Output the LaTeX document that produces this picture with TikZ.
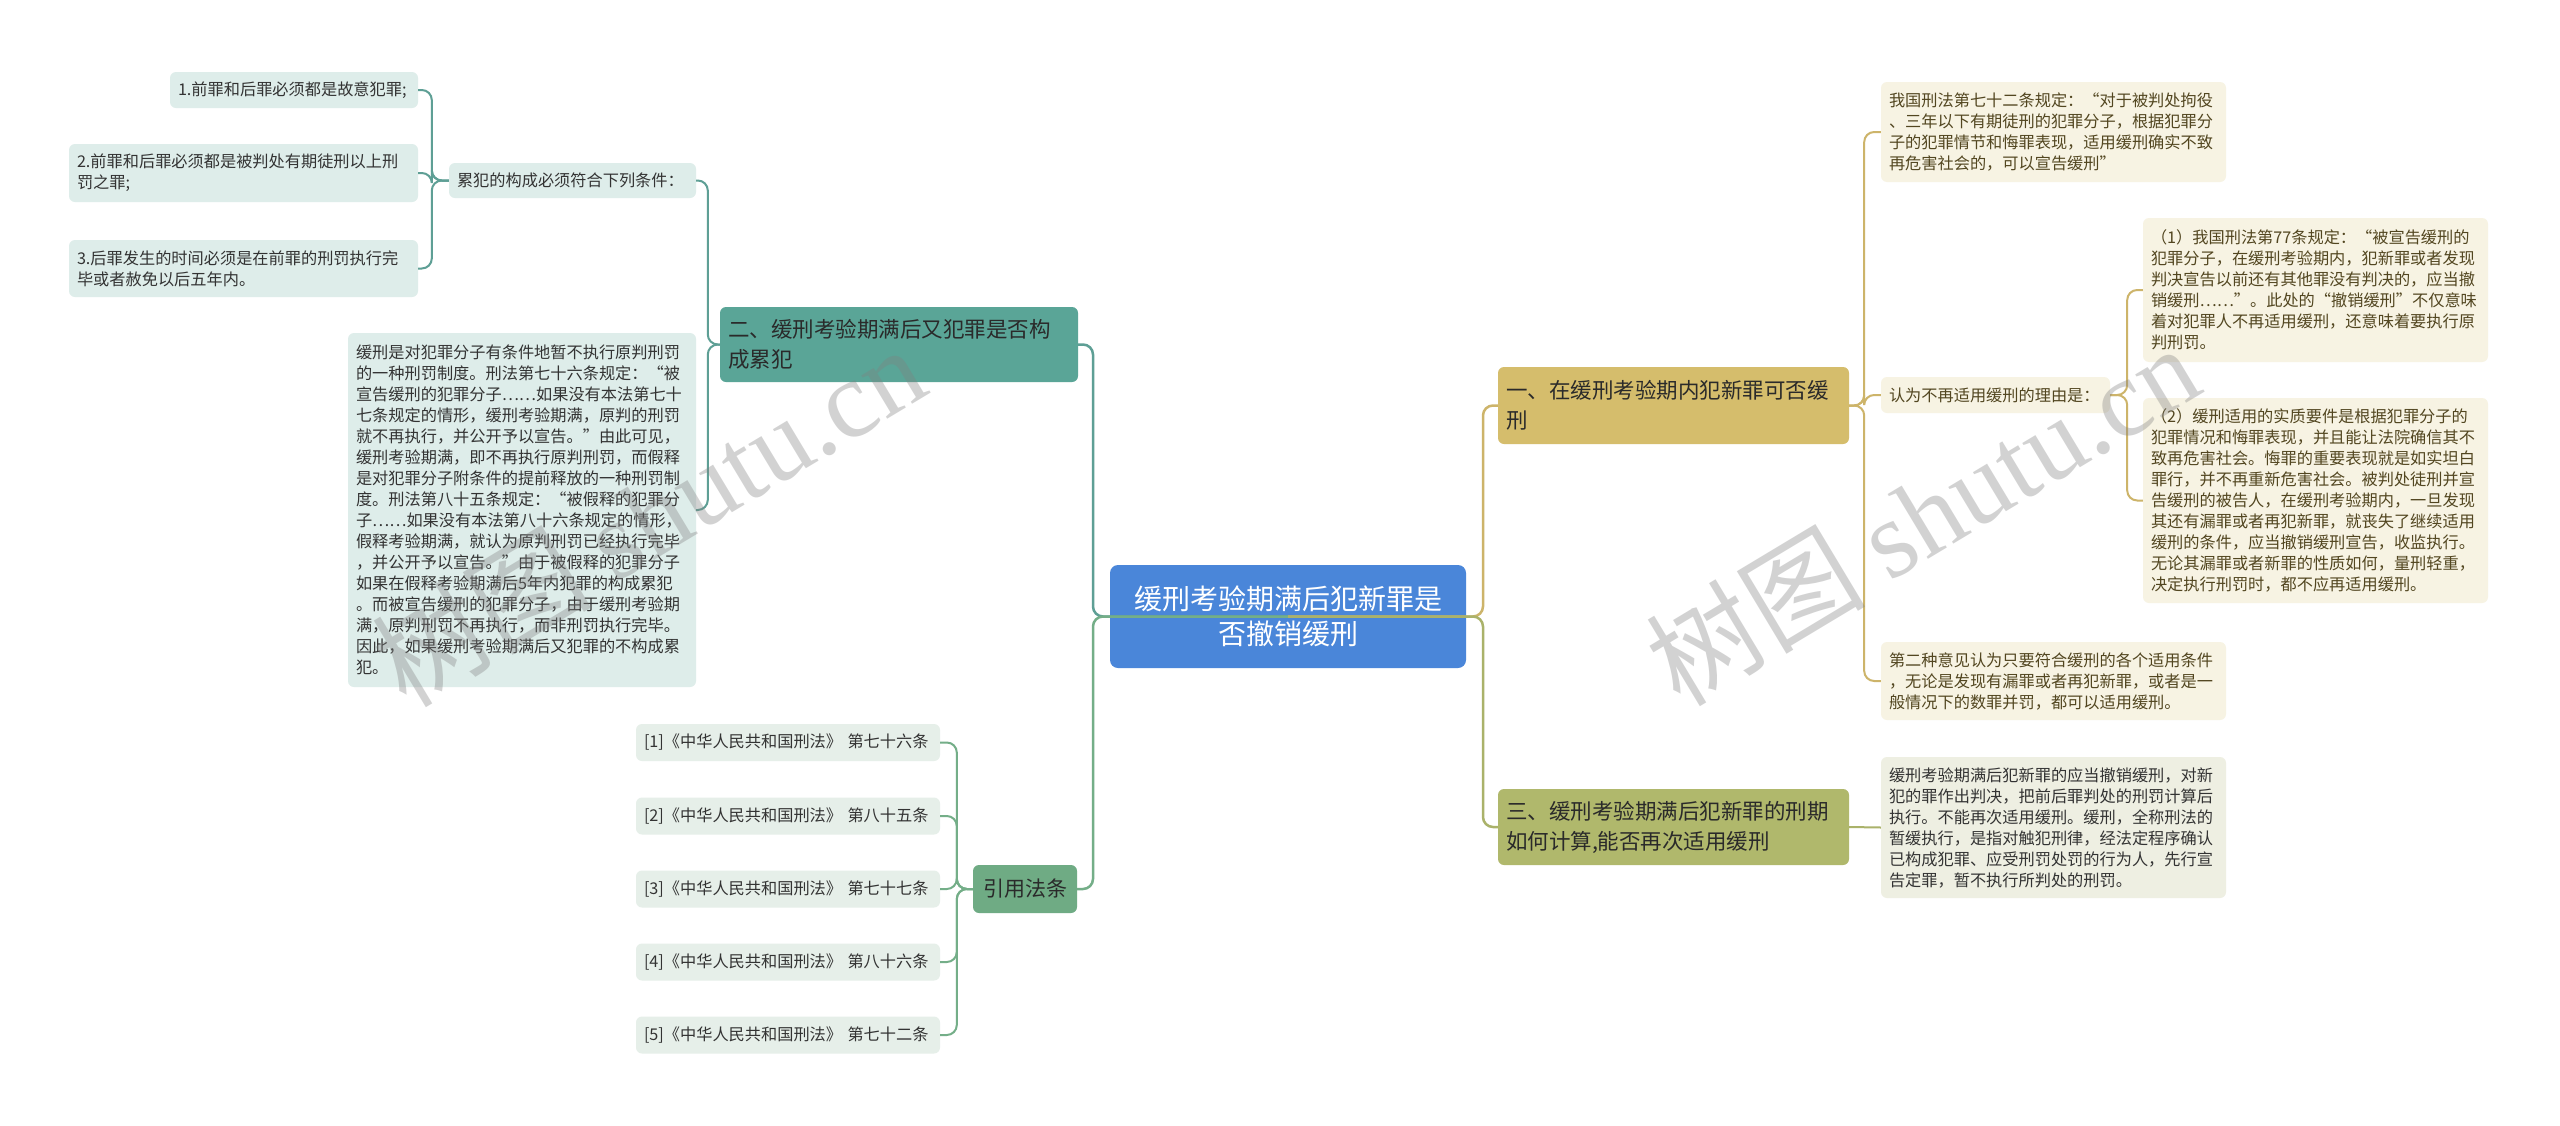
\documentclass[tikz,border=0pt]{standalone}
\usepackage{fontspec}
\setmainfont{Noto Sans CJK SC}
\newfontfamily\wmfont{Liberation Serif}
\definecolor{cblue}{HTML}{4A86D9}
\definecolor{cteal}{HTML}{5AA597}
\definecolor{ltteal}{HTML}{DEEDEA}
\definecolor{lteal}{HTML}{5E9F95}
\definecolor{cgreen}{HTML}{6FAB84}
\definecolor{ltgreen}{HTML}{E6EFE9}
\definecolor{lgreen}{HTML}{74AE88}
\definecolor{cgold}{HTML}{D5BD6C}
\definecolor{ltgold}{HTML}{F7F3E3}
\definecolor{lgold}{HTML}{CDB46A}
\definecolor{colive}{HTML}{B0B86C}
\definecolor{ltolive}{HTML}{EEEFE2}
\definecolor{lolive}{HTML}{AAB26A}
\definecolor{tdark}{HTML}{333333}
\definecolor{tmain}{HTML}{2A2A2A}
\definecolor{tbrown}{HTML}{524620}
\tikzset{
  box/.style={rounded corners=6pt, inner xsep=8pt, inner ysep=0pt, align=left, anchor=center},
  sz/.style 2 args={text width=#1pt, minimum height=#2pt},
  smallbox/.style={box, font=\fontsize{16.2}{21}\selectfont},
  mainbox/.style={box, font=\fontsize{21.5}{30}\selectfont, text=tmain},
  tealsub/.style={smallbox, fill=ltteal, text=tdark},
  greensub/.style={smallbox, fill=ltgreen, text=tdark},
  goldsub/.style={smallbox, fill=ltgold, text=tbrown},
  olivesub/.style={smallbox, fill=ltolive, text=tdark},
  conn/.style={line width=2pt, rounded corners=10pt},
  mainconn/.style={line width=2.5pt, rounded corners=10pt},
  wm/.style={text=gray, text opacity=0.35, font=\fontsize{110}{120}\selectfont, rotate=31}
}
\begin{document}
\begin{tikzpicture}[x=1pt, y=-1pt]
\useasboundingbox (0,0) rectangle (2560,1125);
\fill[white] (0,0) rectangle (2560,1125);

% ---------- nodes ----------
\node[box, fill=cblue, text=white, align=center, rounded corners=8pt,
      font=\fontsize{28}{35}\selectfont, sz={340}{103}] (c) at (1288,616.5)
  {缓刑考验期满后犯新罪是\\否撤销缓刑};

% left: branch two
\node[mainbox, fill=cteal, sz={342}{75}] (er) at (899,344.5)
  {二、缓刑考验期满后又犯罪是否构\\成累犯};
\node[tealsub, sz={231}{35}] (lf) at (572.5,180.5) {累犯的构成必须符合下列条件：};
\node[tealsub, sz={232}{36}] (c1) at (294,90) {1.前罪和后罪必须都是故意犯罪;};
\node[tealsub, sz={333}{58}] (c2) at (243.5,173)
  {2.前罪和后罪必须都是被判处有期徒刑以上刑\\罚之罪;};
\node[tealsub, sz={333}{57}] (c3) at (243.5,268.5)
  {3.后罪发生的时间必须是在前罪的刑罚执行完\\毕或者赦免以后五年内。};
\node[tealsub, sz={332}{354}] (lt) at (522,510)
  {缓刑是对犯罪分子有条件地暂不执行原判刑罚\\
   的一种刑罚制度。刑法第七十六条规定：“被\\
   宣告缓刑的犯罪分子……如果没有本法第七十\\
   七条规定的情形，缓刑考验期满，原判的刑罚\\
   就不再执行，并公开予以宣告。”由此可见，\\
   缓刑考验期满，即不再执行原判刑罚，而假释\\
   是对犯罪分子附条件的提前释放的一种刑罚制\\
   度。刑法第八十五条规定：“被假释的犯罪分\\
   子……如果没有本法第八十六条规定的情形，\\
   假释考验期满，就认为原判刑罚已经执行完毕\\
   ，并公开予以宣告。”由于被假释的犯罪分子\\
   如果在假释考验期满后5年内犯罪的构成累犯\\
   。而被宣告缓刑的犯罪分子，由于缓刑考验期\\
   满，原判刑罚不再执行，而非刑罚执行完毕。\\
   因此，如果缓刑考验期满后又犯罪的不构成累\\
   犯。};

% left: cited laws
\node[mainbox, fill=cgreen, align=center, font=\fontsize{21}{28}\selectfont, sz={88}{48}] (yy) at (1025,889) {引用法条};
\node[greensub, sz={288}{37}] (r1) at (788,742.5) {[1]《中华人民共和国刑法》 第七十六条};
\node[greensub, sz={288}{37}] (r2) at (788,816) {[2]《中华人民共和国刑法》 第八十五条};
\node[greensub, sz={288}{37}] (r3) at (788,889) {[3]《中华人民共和国刑法》 第七十七条};
\node[greensub, sz={288}{37}] (r4) at (788,962) {[4]《中华人民共和国刑法》 第八十六条};
\node[greensub, sz={288}{37}] (r5) at (788,1035) {[5]《中华人民共和国刑法》 第七十二条};

% right: branch one
\node[mainbox, fill=cgold, sz={335}{77}] (yi) at (1673.5,405.5)
  {一、在缓刑考验期内犯新罪可否缓\\刑};
\node[goldsub, sz={329}{100}] (wg) at (2053.5,132)
  {我国刑法第七十二条规定：“对于被判处拘役\\
   、三年以下有期徒刑的犯罪分子，根据犯罪分\\
   子的犯罪情节和悔罪表现，适用缓刑确实不致\\
   再危害社会的，可以宣告缓刑”};
\node[goldsub, sz={213}{36}] (ry) at (1995.5,395) {认为不再适用缓刑的理由是：};
\node[goldsub, sz={329}{144}] (p1) at (2315.5,290)
  {（1）我国刑法第77条规定：“被宣告缓刑的\\
   犯罪分子，在缓刑考验期内，犯新罪或者发现\\
   判决宣告以前还有其他罪没有判决的，应当撤\\
   销缓刑……”。此处的“撤销缓刑”不仅意味\\
   着对犯罪人不再适用缓刑，还意味着要执行原\\
   判刑罚。};
\node[goldsub, sz={329}{205}] (p2) at (2315.5,500.5)
  {（2）缓刑适用的实质要件是根据犯罪分子的\\
   犯罪情况和悔罪表现，并且能让法院确信其不\\
   致再危害社会。悔罪的重要表现就是如实坦白\\
   罪行，并不再重新危害社会。被判处徒刑并宣\\
   告缓刑的被告人，在缓刑考验期内，一旦发现\\
   其还有漏罪或者再犯新罪，就丧失了继续适用\\
   缓刑的条件，应当撤销缓刑宣告，收监执行。\\
   无论其漏罪或者新罪的性质如何，量刑轻重，\\
   决定执行刑罚时，都不应再适用缓刑。};
\node[goldsub, sz={329}{78}] (de) at (2053.5,681)
  {第二种意见认为只要符合缓刑的各个适用条件\\
   ，无论是发现有漏罪或者再犯新罪，或者是一\\
   般情况下的数罪并罚，都可以适用缓刑。};

% right: branch three
\node[mainbox, fill=colive, sz={335}{76}] (san) at (1673.5,827)
  {三、缓刑考验期满后犯新罪的刑期\\如何计算,能否再次适用缓刑};
\node[olivesub, sz={329}{141}] (sc) at (2053.5,827.5)
  {缓刑考验期满后犯新罪的应当撤销缓刑，对新\\
   犯的罪作出判决，把前后罪判处的刑罚计算后\\
   执行。不能再次适用缓刑。缓刑，全称刑法的\\
   暂缓执行，是指对触犯刑律，经法定程序确认\\
   已构成犯罪、应受刑罚处罚的行为人，先行宣\\
   告定罪，暂不执行所判处的刑罚。};

% ---------- connectors ----------
\draw[conn, lteal] (er.west) -- ++(-12,0) |- (lf.east);
\draw[conn, lteal] (er.west) -- ++(-12,0) |- (lt.east);
\draw[conn, lteal] (lf.west) -- ++(-17,0) |- (c1.east);
\draw[conn, lteal] (lf.west) -- ++(-17,0) |- (c2.east);
\draw[conn, lteal] (lf.west) -- ++(-17,0) |- (c3.east);
\foreach \r in {r1,r2,r3,r4,r5}
  \draw[conn, lgreen] (yy.west) -- ++(-16,0) |- (\r.east);
\draw[conn, lgold] (yi.east) -- ++(15,0) |- (wg.west);
\draw[conn, lgold] (yi.east) -- ++(15,0) |- (ry.west);
\draw[conn, lgold] (yi.east) -- ++(15,0) |- (de.west);
\draw[conn, lgold] (ry.east) -- ++(17,0) |- (p1.west);
\draw[conn, lgold] (ry.east) -- ++(17,0) |- (p2.west);
\draw[conn, lolive] (san.east) -- (sc.west);

\draw[mainconn, lteal] (c.center) -- ++(-195,0) |- (er.east);
\draw[mainconn, lgreen] (c.center) -- ++(-195,0) |- (yy.east);
\draw[mainconn, lgold] (c.center) -- ++(195,0) |- (yi.west);
\draw[mainconn, lolive] (c.center) -- ++(195,0) |- (san.west);

% ---------- watermarks ----------
\node[wm] (wm1) at (648,515) {树图 {\wmfont shutu.cn}};
\node[wm] (wm2) at (1922,514) {树图 {\wmfont shutu.cn}};
\end{tikzpicture}
\end{document}
